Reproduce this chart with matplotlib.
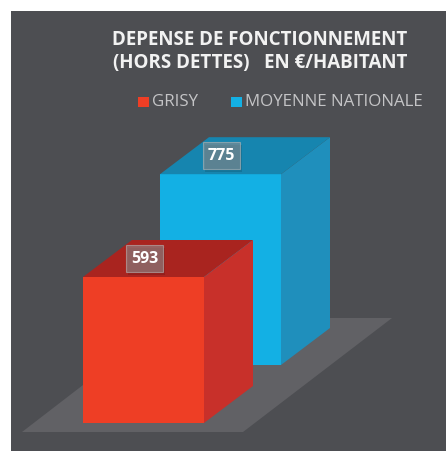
import matplotlib
matplotlib.use("Agg")
import matplotlib.pyplot as plt
from matplotlib.patches import Polygon, Rectangle

# ---- data ----
categories = ["GRISY", "MOYENNE NATIONALE"]
values = [593, 775]
front_colors = ["#ee3e25", "#13b0e4"]
side_colors = ["#c8302a", "#1f8fbc"]
top_colors = ["#a9241f", "#1685af"]
title_lines = ["DEPENSE DE FONCTIONNEMENT", "(HORS DETTES)   EN €/HABITANT"]

# ---- layout (pixel space) ----
W, H = 446, 451
fig = plt.figure(figsize=(W / 100, H / 100), dpi=100)
fig.patch.set_facecolor("white")
ax = fig.add_axes([0, 0, 1, 1])
ax.set_xlim(0, W)
ax.set_ylim(H, 0)
ax.axis("off")

bg = "#4d4e52"
ax.add_patch(Rectangle((11, 11), W - 11, H - 11, facecolor=bg, edgecolor="none", zorder=0))

# floor
ax.add_patch(Polygon([(22, 432), (243, 432), (392, 318), (170, 318)],
                     closed=True, facecolor="#616165", edgecolor="none", zorder=1))

scale = 146 / 593.0       # pixels per euro
bar_w = 121
dx, dy = 49, -37          # depth of each box
step_x, step_y = 77, -58  # offset of each successive bar (going back)
x0, base0 = 83, 423

order = list(range(len(values)))[::-1]  # draw back bar first
for i in order:
    v = values[i]
    xl = x0 + i * step_x
    yb = base0 + i * step_y
    h = v * scale
    yt = yb - h
    xr = xl + bar_w
    z = 2 + (len(values) - i)
    # front
    ax.add_patch(Polygon([(xl, yb), (xr, yb), (xr, yt), (xl, yt)], closed=True,
                         facecolor=front_colors[i], edgecolor="none", zorder=z))
    # side
    ax.add_patch(Polygon([(xr, yb), (xr + dx, yb + dy), (xr + dx, yt + dy), (xr, yt)], closed=True,
                         facecolor=side_colors[i], edgecolor="none", zorder=z))
    # top
    ax.add_patch(Polygon([(xl, yt), (xr, yt), (xr + dx, yt + dy), (xl + dx, yt + dy)], closed=True,
                         facecolor=top_colors[i], edgecolor="none", zorder=z))
    # value label box
    cx = xl + bar_w / 2 + 1
    cy = yt + dy / 2
    bw, bh = 37, 27
    ax.add_patch(Rectangle((cx - bw / 2 + 2, cy - bh / 2 + 3), bw, bh, facecolor="black",
                           alpha=0.12, edgecolor="none", zorder=z + 0.1))
    ax.add_patch(Rectangle((cx - bw / 2, cy - bh / 2), bw, bh, facecolor="#8c8c8e",
                           alpha=0.6, edgecolor="#b5b5b5", linewidth=0.8, zorder=z + 0.2))
    ax.text(cx, cy + 0.5, f"{v}", ha="center", va="center", color="white",
            fontsize=11.5, fontweight="bold", family="Open Sans", zorder=z + 0.3)

# title
ax.text(260, 40, title_lines[0], ha="center", va="center", color="#f2f2f2",
        fontsize=13.5, fontweight="bold", family="Open Sans", zorder=10)
ax.text(260, 63, title_lines[1], ha="center", va="center", color="#f2f2f2",
        fontsize=13.5, fontweight="bold", family="Open Sans", zorder=10)

# legend
leg_x = [138, 231]
leg_y = 102
for i, cat in enumerate(categories):
    ax.add_patch(Rectangle((leg_x[i], leg_y - 5), 11, 10, facecolor=front_colors[i],
                           edgecolor="none", zorder=10))
    ax.text(leg_x[i] + 14, leg_y, cat, ha="left", va="center", color="#c4c4c6",
            fontsize=12.2, family="Open Sans", zorder=10)

fig.savefig("out.png", dpi=100, facecolor="white")
